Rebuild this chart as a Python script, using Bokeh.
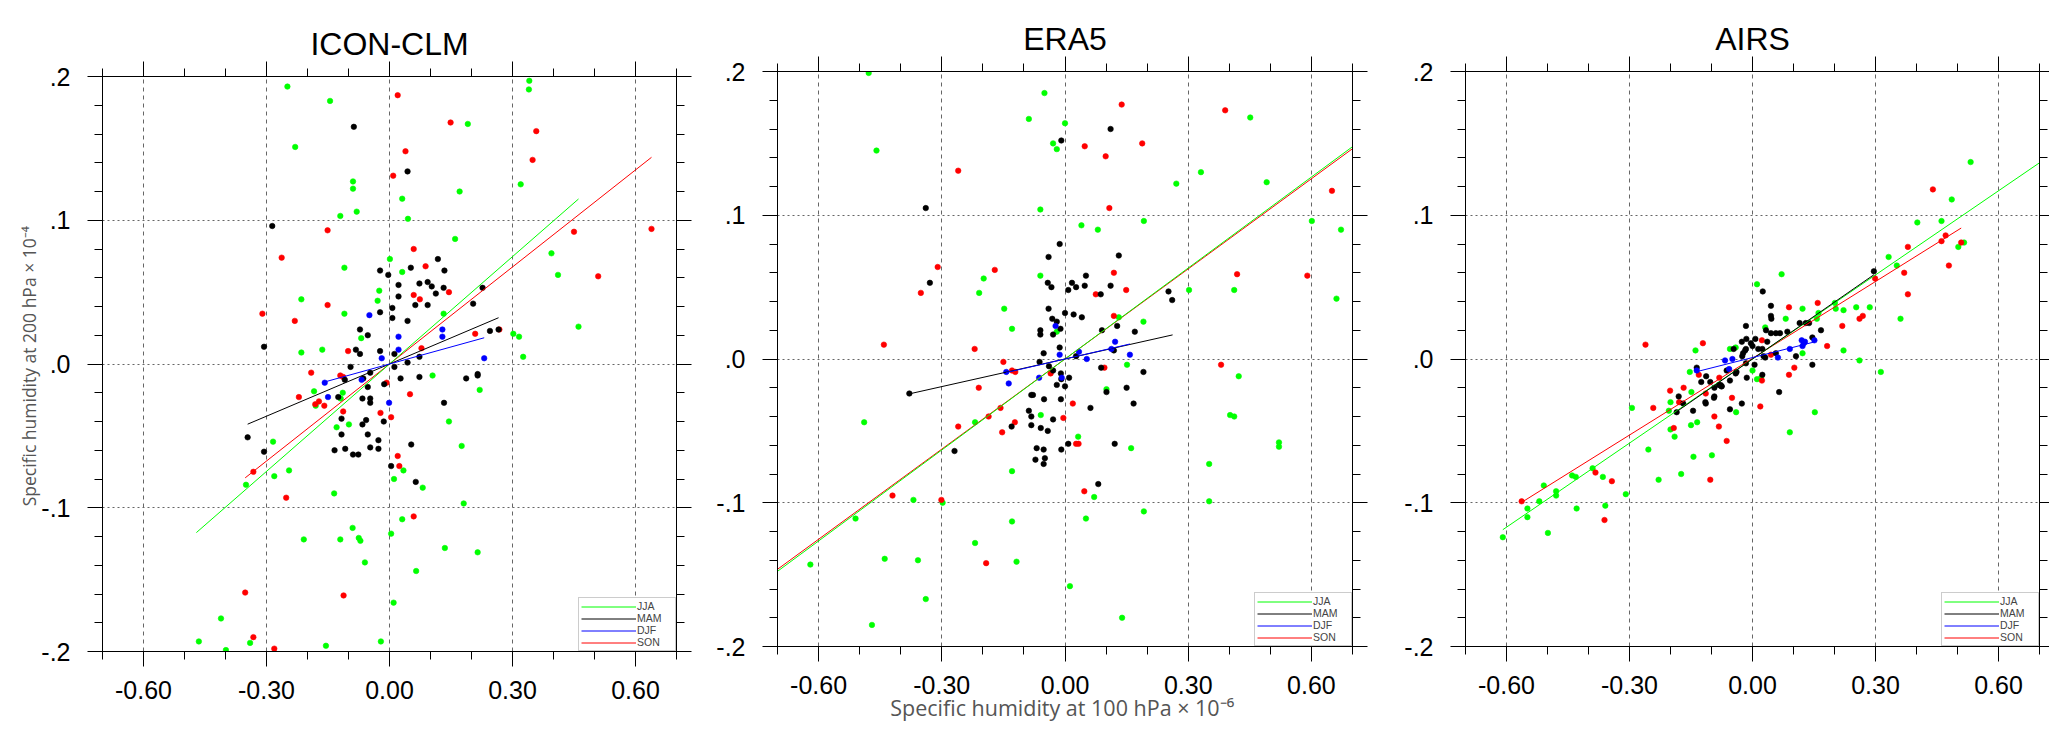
from bokeh.plotting import figure
from bokeh.models import Range1d, FixedTicker, LinearAxis, Legend, LegendItem
from bokeh.layouts import row
from bokeh.embed import file_html
from bokeh.resources import INLINE

# ---------------------------------------------------------------- seasons
SEASONS = ["JJA", "MAM", "DJF", "SON"]
SEASON_COLORS = ["#00ff00", "#000000", "#0000ff", "#ff0000"]

# ---------------------------------------------------------------- axes
X_TICKS = [-0.6, -0.3, 0.0, 0.3, 0.6]
X_TICK_LABELS = ["-0.60", "-0.30", "0.00", "0.30", "0.60"]
X_MINOR_TICKS = [-0.7, -0.5, -0.4, -0.2, -0.1, 0.1, 0.2, 0.4, 0.5, 0.7]
Y_TICKS = [-0.2, -0.1, 0.0, 0.1, 0.2]
Y_TICK_LABELS = ["-.2", "-.1", ".0", ".1", ".2"]
Y_MINOR_TICKS = [-0.18, -0.16, -0.14, -0.12, -0.08, -0.06, -0.04, -0.02,
                 0.02, 0.04, 0.06, 0.08, 0.12, 0.14, 0.16, 0.18]
X_TITLE = "Specific humidity at 100 hPa  \u00d7 10\u207b\u2076"
Y_TITLE = "Specific humidity at 200 hPa  \u00d7 10\u207b\u2074"

# ---------------------------------------------------------------- ICON-CLM
icon_jja_x = [-0.249, -0.145, -0.230, -0.089, -0.089, -0.080, -0.120, 0.341, 0.340, 0.191,
              0.320, 0.171, 0.031, 0.045, 0.160, 0.395, 0.411, 0.001, 0.031, -0.110,
              -0.025, -0.029, -0.215, -0.110, 0.132, -0.069, -0.215, -0.164, 0.302, 0.316,
              0.461, 0.326, 0.105, 0.220, -0.114, -0.184, -0.180, -0.119, 0.145, -0.099,
              -0.129, 0.176, -0.284, -0.281, -0.245, -0.350, 0.011, 0.034, 0.081, -0.135,
              0.181, 0.031, -0.090, 0.004, -0.209, -0.120, -0.075, -0.071, 0.135, 0.215,
              -0.060, 0.065, 0.010, -0.411, -0.465, -0.340, -0.399, -0.155, -0.021]
icon_jja_y = [0.193, 0.183, 0.151, 0.127, 0.122, 0.106, 0.103, 0.197, 0.191, 0.167,
              0.125, 0.120, 0.115, 0.101, 0.087, 0.077, 0.062, 0.073, 0.064, 0.067,
              0.051, 0.044, 0.045, 0.035, 0.035, 0.018, 0.008, 0.010, 0.021, 0.019,
              0.026, 0.005, -0.008, -0.018, -0.020, -0.019, -0.029, -0.024, -0.040, -0.042,
              -0.044, -0.057, -0.054, -0.078, -0.074, -0.084, -0.080, -0.074, -0.086, -0.090,
              -0.097, -0.108, -0.114, -0.118, -0.122, -0.122, -0.121, -0.123, -0.128, -0.131,
              -0.138, -0.144, -0.166, -0.177, -0.193, -0.194, -0.199, -0.196, -0.193]
icon_mam_x = [-0.087, 0.044, -0.286, 0.118, -0.023, -0.003, 0.052, 0.134, 0.022, 0.073,
              0.093, 0.103, 0.132, 0.113, 0.227, 0.022, 0.063, 0.093, 0.204, 0.007,
              -0.023, 0.007, 0.044, -0.072, -0.053, 0.245, 0.266, -0.306, -0.082, -0.072,
              -0.023, 0.012, 0.073, 0.044, -0.095, 0.012, -0.047, -0.064, 0.073, 0.187,
              0.215, 0.215, -0.109, 0.027, -0.013, -0.053, -0.125, -0.066, -0.047, -0.047,
              0.133, -0.117, -0.117, -0.066, -0.057, -0.053, -0.014, -0.027, -0.346, -0.306,
              -0.134, -0.108, -0.089, -0.076, -0.047, -0.027, 0.053, 0.004, 0.064]
icon_mam_y = [0.165, 0.134, 0.096, 0.073, 0.065, 0.062, 0.067, 0.065, 0.055, 0.056,
              0.057, 0.054, 0.053, 0.049, 0.053, 0.047, 0.041, 0.041, 0.042, 0.039,
              0.036, 0.032, 0.030, 0.024, 0.020, 0.023, 0.024, 0.012, 0.010, 0.007,
              0.009, 0.007, 0.005, 0.001, -0.002, -0.002, -0.006, -0.010, -0.009, -0.010,
              -0.008, -0.007, -0.011, -0.010, -0.014, -0.016, -0.023, -0.024, -0.024, -0.027,
              -0.027, -0.038, -0.049, -0.042, -0.039, -0.049, -0.040, -0.053, -0.051, -0.061,
              -0.060, -0.059, -0.063, -0.063, -0.058, -0.059, -0.056, -0.071, -0.082]
icon_djf_x = [-0.049, 0.129, 0.129, 0.022, 0.022, -0.019, 0.231, -0.158, -0.068, -0.150, -0.001]
icon_djf_y = [0.034, 0.024, 0.019, 0.019, 0.010, 0.004, 0.004, -0.013, -0.011, -0.023, -0.027]
icon_son_x = [0.020, 0.149, 0.358, 0.039, 0.349, 0.009, -0.151, 0.450, 0.639, -0.263,
              0.059, 0.088, 0.509, 0.145, 0.059, 0.074, -0.151, -0.310, -0.231, 0.209,
              0.268, -0.101, 0.078, -0.191, -0.120, -0.113, 0.050, -0.221, -0.181, -0.172,
              -0.159, -0.113, -0.022, 0.004, 0.020, 0.024, -0.332, -0.252, 0.059, -0.352,
              -0.112, -0.332, -0.281, -0.007]
icon_son_y = [0.187, 0.168, 0.162, 0.148, 0.142, 0.131, 0.093, 0.092, 0.094, 0.074,
              0.080, 0.068, 0.061, 0.050, 0.048, 0.045, 0.041, 0.035, 0.030, 0.021,
              0.024, 0.009, 0.011, -0.006, -0.008, -0.009, -0.021, -0.023, -0.028, -0.026,
              -0.029, -0.033, -0.034, -0.037, -0.064, -0.071, -0.075, -0.093, -0.106, -0.159,
              -0.161, -0.190, -0.198, -0.013]
# least-squares fits (slope, intercept) and the x span each fit is drawn over
icon_fit_slope = [0.249, 0.121, 0.079, 0.225]
icon_fit_icpt = [0.0, 0.0, 0.0, 0.0]
icon_fit_lo = [-0.471, -0.346, -0.158, -0.352]
icon_fit_hi = [0.461, 0.266, 0.231, 0.639]

# ---------------------------------------------------------------- ERA5
era5_jja_x = [-0.478, -0.459, -0.050, -0.088, 0.000, -0.029, -0.020, 0.451, 0.331, 0.271,
              0.491, -0.060, 0.601, 0.672, 0.040, 0.080, 0.192, -0.060, -0.198, -0.209,
              -0.148, -0.129, -0.020, 0.131, 0.191, 0.302, 0.412, 0.661, 0.151, 0.423,
              0.101, -0.059, -0.219, -0.489, 0.402, 0.412, 0.032, 0.161, 0.521, 0.521,
              0.351, -0.129, -0.369, -0.298, 0.071, 0.351, -0.510, -0.129, 0.051, 0.192,
              -0.219, -0.439, -0.358, -0.118, -0.620, 0.012, -0.339, 0.139, -0.470]
era5_jja_y = [0.199, 0.145, 0.185, 0.167, 0.164, 0.150, 0.146, 0.168, 0.130, 0.122,
              0.123, 0.104, 0.096, 0.090, 0.093, 0.090, 0.096, 0.058, 0.056, 0.046,
              0.035, 0.021, 0.019, 0.029, 0.026, 0.048, 0.048, 0.042, -0.004, -0.012,
              -0.021, -0.039, -0.044, -0.044, -0.039, -0.040, -0.054, -0.062, -0.058, -0.061,
              -0.073, -0.078, -0.098, -0.100, -0.096, -0.099, -0.111, -0.113, -0.111, -0.106,
              -0.128, -0.139, -0.140, -0.141, -0.143, -0.158, -0.167, -0.180, -0.185]
era5_mam_x = [-0.339, -0.009, 0.111, -0.013, -0.040, 0.131, -0.329, -0.042, -0.033, 0.017,
              0.008, 0.027, 0.048, 0.051, 0.111, 0.087, 0.252, 0.261, -0.040, 0.000,
              0.021, 0.041, -0.031, -0.020, -0.060, -0.060, -0.029, -0.011, 0.090, 0.127,
              0.170, -0.013, -0.052, 0.027, 0.119, -0.062, -0.039, 0.088, 0.191, -0.010,
              0.010, -0.009, 0.000, -0.020, 0.150, 0.101, -0.082, -0.078, -0.379, -0.051,
              -0.010, -0.029, 0.167, -0.088, -0.082, -0.029, -0.130, -0.082, -0.059, -0.042,
              0.062, 0.008, 0.121, -0.269, -0.069, -0.052, -0.009, -0.072, -0.049, -0.052,
              0.081]
era5_mam_y = [0.105, 0.152, 0.160, 0.080, 0.071, 0.072, 0.053, 0.053, 0.050, 0.053,
              0.048, 0.050, 0.051, 0.058, 0.051, 0.045, 0.047, 0.041, 0.035, 0.032,
              0.031, 0.029, 0.028, 0.026, 0.020, 0.017, 0.017, 0.021, 0.020, 0.023,
              0.019, 0.008, 0.004, 0.002, 0.006, -0.002, -0.005, -0.006, -0.009, -0.010,
              -0.013, -0.014, -0.019, -0.018, -0.020, -0.023, -0.025, -0.025, -0.024, -0.028,
              -0.028, -0.008, -0.031, -0.036, -0.040, -0.042, -0.047, -0.046, -0.048, -0.050,
              -0.034, -0.059, -0.059, -0.064, -0.062, -0.063, -0.063, -0.070, -0.069, -0.073,
              -0.087]
era5_djf_x = [-0.023, -0.013, 0.034, 0.053, 0.122, 0.113, 0.158, -0.143, -0.137, -0.063, -0.008]
era5_djf_y = [0.023, 0.003, 0.005, 0.000, 0.012, 0.007, 0.003, -0.009, -0.017, -0.013, -0.013]
era5_son_x = [0.138, 0.390, 0.048, 0.188, 0.099, -0.260, 0.650, 0.108, -0.310, -0.171,
              -0.351, 0.119, 0.419, 0.590, 0.149, 0.075, 0.119, -0.441, -0.220, -0.150,
              0.380, 0.096, -0.129, -0.121, -0.035, -0.210, 0.019, -0.157, -0.186, -0.260,
              -0.122, -0.153, -0.004, 0.033, 0.027, 0.047, -0.420, -0.301, -0.192]
era5_son_y = [0.177, 0.173, 0.148, 0.150, 0.141, 0.131, 0.117, 0.105, 0.064, 0.062,
              0.046, 0.060, 0.059, 0.058, 0.048, 0.045, 0.030, 0.010, 0.007, -0.002,
              -0.004, -0.006, -0.008, -0.009, -0.010, -0.020, -0.031, -0.034, -0.040, -0.047,
              -0.044, -0.051, -0.041, -0.059, -0.059, -0.092, -0.095, -0.098, -0.142]
era5_fit_slope = [0.211, 0.064, 0.066, 0.209]
era5_fit_icpt = [0.0, 0.0, 0.0, 0.0]
era5_fit_lo = [-0.70, -0.379, -0.143, -0.70]
era5_fit_hi = [0.70, 0.262, 0.158, 0.70]

# ---------------------------------------------------------------- AIRS
airs_jja_x = [0.532, 0.486, 0.402, 0.461, 0.502, 0.516, 0.332, 0.352, 0.071, 0.011,
              0.201, 0.203, 0.222, 0.253, 0.286, 0.122, 0.161, 0.157, 0.081, 0.361,
              0.031, 0.222, 0.122, 0.261, 0.313, -0.055, -0.041, -0.139, -0.153, 0.000,
              0.011, 0.021, -0.149, -0.200, -0.204, -0.294, -0.040, -0.150, -0.135, -0.200,
              -0.190, 0.152, 0.091, -0.254, -0.144, -0.099, -0.174, -0.229, -0.309, -0.390,
              -0.440, -0.431, -0.365, -0.479, -0.479, -0.509, -0.520, -0.549, -0.549, -0.429,
              -0.359, -0.499, -0.609]
airs_jja_y = [0.137, 0.111, 0.095, 0.096, 0.078, 0.081, 0.071, 0.065, 0.059, 0.052,
              0.039, 0.035, 0.034, 0.036, 0.036, 0.035, 0.032, 0.028, 0.028, 0.028,
              0.022, 0.006, 0.004, -0.001, -0.009, 0.007, 0.008, 0.006, -0.009, -0.008,
              -0.014, -0.013, -0.023, -0.030, -0.036, -0.034, -0.037, -0.046, -0.044, -0.049,
              -0.054, -0.037, -0.051, -0.063, -0.068, -0.067, -0.080, -0.084, -0.094, -0.076,
              -0.081, -0.082, -0.082, -0.092, -0.095, -0.088, -0.099, -0.104, -0.110, -0.104,
              -0.102, -0.121, -0.124]
airs_mam_x = [0.296, 0.025, 0.045, 0.045, 0.046, -0.016, 0.167, 0.045, 0.057, 0.067,
              0.085, 0.033, 0.115, 0.130, 0.138, 0.146, -0.015, 0.007, -0.026, -0.004,
              0.000, 0.036, 0.024, 0.014, -0.016, -0.023, -0.046, -0.018, 0.027, 0.057,
              0.031, 0.106, 0.146, 0.005, -0.016, -0.025, -0.136, -0.063, -0.039, -0.014,
              -0.113, -0.125, -0.103, -0.093, -0.082, -0.076, -0.055, -0.041, 0.065, -0.093,
              -0.180, -0.115, -0.114, -0.094, -0.078, -0.075, -0.026, -0.055, -0.145, -0.185,
              -0.169, 0.024]
airs_mam_y = [0.061, 0.047, 0.037, 0.030, 0.028, 0.023, 0.020, 0.018, 0.018, 0.018,
              0.019, 0.020, 0.025, 0.025, 0.025, 0.015, 0.014, 0.014, 0.012, 0.011,
              0.009, 0.012, 0.007, 0.007, 0.007, 0.004, 0.007, 0.006, 0.002, 0.004,
              0.001, 0.002, -0.004, -0.004, -0.003, 0.002, -0.006, -0.008, -0.009, -0.013,
              -0.012, -0.016, -0.016, -0.020, -0.018, -0.019, -0.015, -0.010, -0.023, -0.026,
              -0.026, -0.030, -0.031, -0.027, -0.018, -0.019, -0.031, -0.035, -0.036, -0.037,
              -0.031, -0.011]
airs_djf_x = [-0.067, -0.049, 0.091, 0.120, 0.125, 0.128, 0.122, 0.151, -0.057, -0.136, 0.062]
airs_djf_y = [-0.001, 0.000, 0.007, 0.013, 0.011, 0.012, 0.009, 0.013, -0.007, -0.008, 0.001]
airs_son_x = [0.440, 0.471, 0.461, 0.509, 0.479, 0.379, 0.370, 0.379, 0.299, 0.159,
              0.089, 0.219, 0.269, 0.261, 0.182, -0.261, -0.121, 0.023, 0.045, 0.102,
              0.089, 0.023, -0.081, -0.131, -0.114, -0.168, -0.201, -0.050, -0.179, -0.242,
              -0.192, -0.093, -0.082, -0.063, 0.019, -0.103, -0.383, -0.343, -0.361, -0.563]
airs_son_y = [0.118, 0.086, 0.082, 0.081, 0.065, 0.078, 0.060, 0.045, 0.056, 0.039,
              0.036, 0.023, 0.030, 0.028, 0.009, 0.010, 0.011, 0.013, 0.003, -0.006,
              -0.011, -0.015, -0.013, -0.011, -0.024, -0.020, -0.022, -0.027, -0.030, -0.034,
              -0.048, -0.040, -0.047, -0.057, -0.033, -0.084, -0.079, -0.085, -0.112, -0.099]
airs_fit_slope = [0.195, 0.198, 0.072, 0.178]
airs_fit_icpt = [0.0, 0.0, 0.001, 0.0005]
airs_fit_lo = [-0.609, -0.185, -0.137, -0.563]
airs_fit_hi = [0.70, 0.296, 0.151, 0.509]

# ---------------------------------------------------------------- styling
TICK_FONT = "Liberation Sans"
LABEL_FONT = "Open Sans"
LABEL_COLOR = "#555555"
GRID_COLOR = "#666666"

POINT_ORDER = [0, 3, 1, 2]   # JJA, SON, MAM, DJF
LINE_ORDER = [3, 0, 1, 2]    # SON, JJA, MAM, DJF

TOP_BORDER = 88              # room for title and top ticks above each frame


def style_axis(ax, show_labels, tick_out=15):
    ax.axis_line_color = "black"
    ax.axis_line_width = 1
    ax.major_tick_in = 0
    ax.major_tick_out = tick_out
    ax.minor_tick_in = 0
    ax.minor_tick_out = 8
    ax.major_tick_line_color = "black"
    ax.minor_tick_line_color = "black"
    ax.major_label_text_font = TICK_FONT
    if show_labels:
        ax.major_label_text_font_size = "25px"
        ax.major_label_text_color = "black"
    else:
        # tick marks only: the labels of the mirrored axes are not painted
        ax.major_label_text_font_size = "1px"
        ax.major_label_text_color = None
        ax.major_label_standoff = 0


def make_panel(title, xs, ys, slope, icpt, lo, hi, frame_w, frame_h,
               b_left, b_right, b_top, b_bottom, right_tick=15):
    p = figure(frame_width=frame_w, frame_height=frame_h,
               min_border_left=b_left, min_border_right=b_right,
               min_border_top=b_top, min_border_bottom=b_bottom,
               x_range=Range1d(-0.7, 0.7), y_range=Range1d(-0.2, 0.2),
               output_backend="svg", toolbar_location=None,
               background_fill_color="white", border_fill_color="white",
               title=title)
    p.outline_line_color = "black"
    p.outline_line_width = 1

    p.title.align = "center"
    p.title.text_font = TICK_FONT
    p.title.text_font_size = "32px"
    p.title.text_font_style = "normal"
    p.title.text_color = "black"
    p.title.standoff = 0

    bx = p.xaxis[0]
    bx.ticker = FixedTicker(ticks=X_TICKS, minor_ticks=X_MINOR_TICKS)
    bx.major_label_overrides = dict(zip(X_TICKS, X_TICK_LABELS))
    style_axis(bx, True)
    bx.major_label_standoff = 14

    ly = p.yaxis[0]
    ly.ticker = FixedTicker(ticks=Y_TICKS, minor_ticks=Y_MINOR_TICKS)
    ly.major_label_overrides = dict(zip(Y_TICKS, Y_TICK_LABELS))
    style_axis(ly, True)
    ly.major_label_standoff = 17

    top = LinearAxis(ticker=FixedTicker(ticks=X_TICKS, minor_ticks=X_MINOR_TICKS))
    style_axis(top, False)
    p.add_layout(top, "above")
    rgt = LinearAxis(ticker=FixedTicker(ticks=Y_TICKS, minor_ticks=Y_MINOR_TICKS))
    style_axis(rgt, False, tick_out=right_tick)
    p.add_layout(rgt, "right")

    p.xgrid.ticker = FixedTicker(ticks=X_TICKS)
    p.ygrid.ticker = FixedTicker(ticks=Y_TICKS)
    p.xgrid.grid_line_color = GRID_COLOR
    p.xgrid.grid_line_dash = "4 4"
    p.xgrid.grid_line_width = 1
    p.ygrid.grid_line_color = GRID_COLOR
    p.ygrid.grid_line_dash = "2 3"
    p.ygrid.grid_line_width = 1

    for i in POINT_ORDER:
        c = SEASON_COLORS[i]
        p.scatter(xs[i], ys[i], marker="circle", size=5.5, fill_color=c,
                  line_color=c, line_width=0.6)

    lines = {}
    for i in LINE_ORDER:
        x0, x1 = lo[i], hi[i]
        lines[i] = p.line([x0, x1], [slope[i] * x0 + icpt[i], slope[i] * x1 + icpt[i]],
                          line_color=SEASON_COLORS[i], line_width=1)

    legend = Legend(items=[LegendItem(label=SEASONS[i], renderers=[lines[i]]) for i in range(4)],
                    location="bottom_right", margin=0, padding=2, spacing=0,
                    glyph_width=55, glyph_height=9, label_height=9, label_width=36,
                    label_standoff=1,
                    label_text_font=TICK_FONT, label_text_font_size="10.5px",
                    border_line_color="#999999", border_line_width=1,
                    background_fill_color="white", background_fill_alpha=1)
    p.add_layout(legend)
    return p, bx, ly


p1, p1_bottom, p1_left = make_panel(
    "ICON-CLM",
    [icon_jja_x, icon_mam_x, icon_djf_x, icon_son_x],
    [icon_jja_y, icon_mam_y, icon_djf_y, icon_son_y],
    icon_fit_slope, icon_fit_icpt, icon_fit_lo, icon_fit_hi,
    574, 575, 102, 29, TOP_BORDER, 81)
p2, p2_bottom, p2_left = make_panel(
    "ERA5",
    [era5_jja_x, era5_mam_x, era5_djf_x, era5_son_x],
    [era5_jja_y, era5_mam_y, era5_djf_y, era5_son_y],
    era5_fit_slope, era5_fit_icpt, era5_fit_lo, era5_fit_hi,
    575, 575, 72, 36, TOP_BORDER, 86)
p3, p3_bottom, p3_left = make_panel(
    "AIRS",
    [airs_jja_x, airs_mam_x, airs_djf_x, airs_son_x],
    [airs_jja_y, airs_mam_y, airs_djf_y, airs_son_y],
    airs_fit_slope, airs_fit_icpt, airs_fit_lo, airs_fit_hi,
    574, 575, 77, 10, TOP_BORDER, 86, right_tick=10)

# pull the canvases up so the frames start at 76 px (model) and 71 px (observations)
p1.styles = {"margin-top": f"{76 - TOP_BORDER}px"}
p2.styles = {"margin-top": f"{71 - TOP_BORDER}px"}
p3.styles = {"margin-top": f"{71 - TOP_BORDER}px"}

# y-axis title beside the first panel
p1_left.axis_label = Y_TITLE
p1_left.axis_label_text_font = LABEL_FONT
p1_left.axis_label_text_font_size = "17.5px"
p1_left.axis_label_text_font_style = "normal"
p1_left.axis_label_text_color = LABEL_COLOR
p1_left.axis_label_standoff = -3

# shared x-axis title under the middle panel
p2_bottom.axis_label = X_TITLE
p2_bottom.axis_label_text_font = LABEL_FONT
p2_bottom.axis_label_text_font_size = "21.5px"
p2_bottom.axis_label_text_font_style = "normal"
p2_bottom.axis_label_text_color = LABEL_COLOR
p2_bottom.axis_label_standoff = -4

layout = row(p1, p2, p3, spacing=0)
open("out.html", "w").write(file_html(layout, INLINE))
